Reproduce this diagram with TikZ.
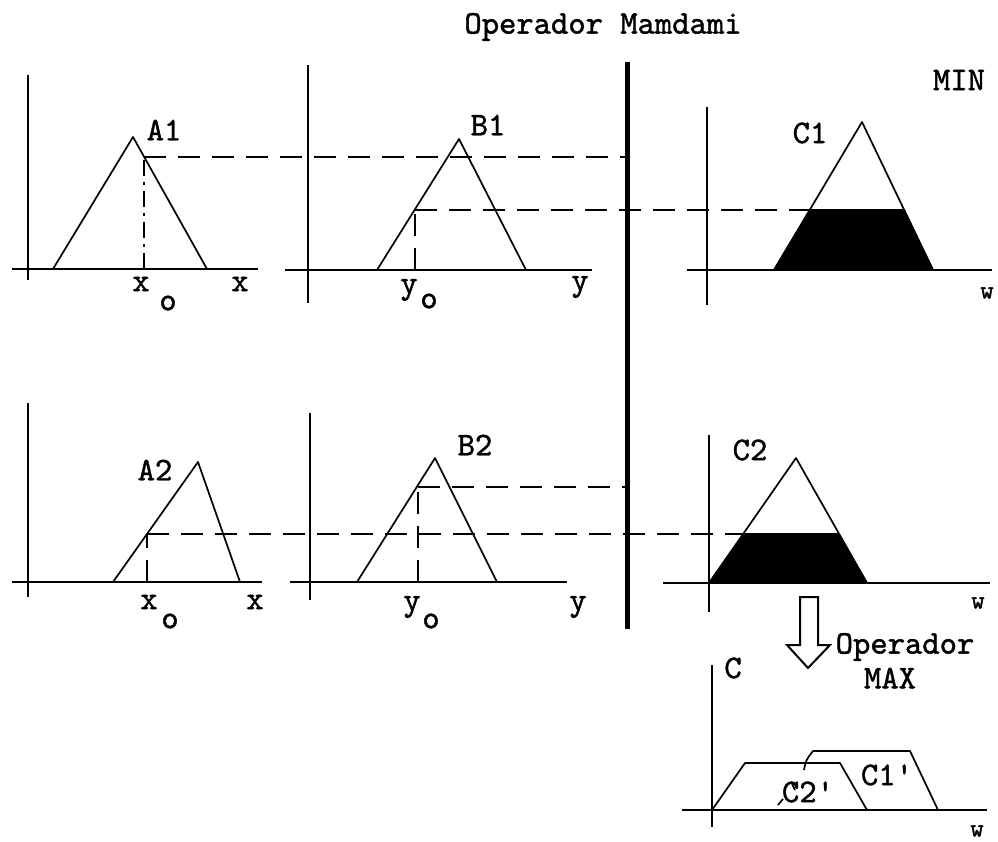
\documentclass[tikz,border=0pt]{standalone}
\usepackage{fontspec}
\newfontfamily\courb[FakeBold=1.3]{lmmono10-regular.otf}
\begin{document}
\begin{tikzpicture}[x=1pt,y=-1pt,
  axis/.style={line width=2pt},
  curve/.style={line width=1.7pt, line join=round},
  dsh/.style={line width=2pt, dash pattern=on 22pt off 12pt},
  dshdot/.style={line width=2pt, dash pattern=on 16pt off 6pt on 3pt off 6pt},
  lbl/.style={font=\courb\fontsize{33}{34}\selectfont, inner sep=0pt},
  wlbl/.style={font=\courb\fontsize{26}{27}\selectfont, inner sep=0pt},
  bar/.style={line width=5pt},
  mfill/.style={fill=black, draw=black, line width=1.6pt}
]
\useasboundingbox (0,0) rectangle (998,842);

% title
\node[lbl] (title) at (603,27) {Operador Mamdami};
\node[lbl] (min) at (959,80) {MIN};

% thick separator
\coordinate (barT) at (627,62);
\coordinate (barB) at (627,629);
\draw[bar] (barT) -- (barB);

% ---------- A1 ----------
\draw[axis] (28,75) -- (28,280);
\draw[axis] (12,269) -- (258,269);
\draw[curve] (53,269) -- (133,137) -- (207,269);
\draw[dshdot] (144,269) -- (144,157);
\node[lbl] (A1) at (164,130) {A1};
\node[lbl] (x1) at (141,284) {x};
\node[lbl] (o1) at (168,303) {o};
\node[lbl] (xl1) at (240,284) {x};

% ---------- B1 ----------
\draw[axis] (308,65) -- (308,303);
\draw[axis] (285,270) -- (592,270);
\draw[curve] (377,270) -- (459,139) -- (526,270);
\draw[dsh] (415,270) -- (415,210);
\node[lbl] (B1) at (488,125) {B1};
\node[lbl] (y1) at (409,290) {y};
\node[lbl] (o2) at (429,301) {o};
\node[lbl] (yl1) at (580,287) {y};

% horizontal dashed lines top
\draw[dsh] (144,157) -- (627,157);
\draw[dsh] (415,210) -- (810,210);

% ---------- C1 ----------
\fill[mfill] (774,270) -- (810,210) -- (904,210) -- (933,270) -- cycle;
\draw[axis] (707,107) -- (707,305);
\draw[axis] (687,270) -- (992,270);
\draw[curve] (774,270) -- (862,122) -- (933,270);
\node[lbl] (C1) at (810,133) {C1};
\node[wlbl] (w1) at (987,293) {w};

% ---------- A2 ----------
\draw[axis] (28,403) -- (28,597);
\draw[axis] (12,582) -- (262,582);
\draw[curve] (113,582) -- (198,462) -- (240,582);
\draw[dsh] (147,582) -- (147,534);
\node[lbl] (A2) at (155,470) {A2};
\node[lbl] (x2) at (149,602) {x};
\node[lbl] (o3) at (170,621) {o};
\node[lbl] (xl2) at (255,602) {x};

% ---------- B2 ----------
\draw[axis] (310,413) -- (310,600);
\draw[axis] (290,582) -- (567,582);
\draw[curve] (357,582) -- (435,458) -- (497,582);
\draw[dsh] (418,582) -- (418,487);
\draw[dsh] (418,487) -- (627,487);
\node[lbl] (B2) at (475,445) {B2};
\node[lbl] (y2) at (412,607) {y};
\node[lbl] (o4) at (431,621) {o};
\node[lbl] (yl2) at (578,607) {y};

% dashed line bottom
\draw[dsh] (147,534) -- (744,534);

% ---------- C2 ----------
\fill[mfill] (709,583) -- (744,534) -- (838,534) -- (867,583) -- cycle;
\draw[axis] (709,435) -- (709,612);
\draw[axis] (663,583) -- (990,583);
\draw[curve] (709,583) -- (796,458) -- (867,583);
\node[lbl] (C2) at (750,450) {C2};
\node[wlbl] (w2) at (978,603) {w};

% ---------- arrow ----------
\draw[line width=2pt, line join=miter] (800,597) -- (818,597) -- (818,645) -- (830,645) -- (808,668) -- (787,645) -- (800,645) -- cycle;
\node[lbl] (opmax) at (905,647) {Operador};
\node[lbl] (max) at (890,678) {MAX};

% ---------- C ----------
\draw[axis] (712,665) -- (712,827);
\draw[axis] (682,810) -- (987,810);
\draw[curve] (712,810) -- (745,763) -- (840,763) -- (867,810);
\draw[curve] (804,770) .. controls (806,760) .. (813,751) -- (910,751) -- (938,810);
\draw[curve] (778,805) -- (783,799);
\draw[curve] (792,784) -- (795,790);
\node[lbl] (C) at (733,668) {C};
\node[lbl] (C1p) at (887,775) {C1'};
\node[lbl] (C2p) at (808,792) {C2'};
\node[wlbl] (w3) at (977,831) {w};
\end{tikzpicture}
\end{document}
